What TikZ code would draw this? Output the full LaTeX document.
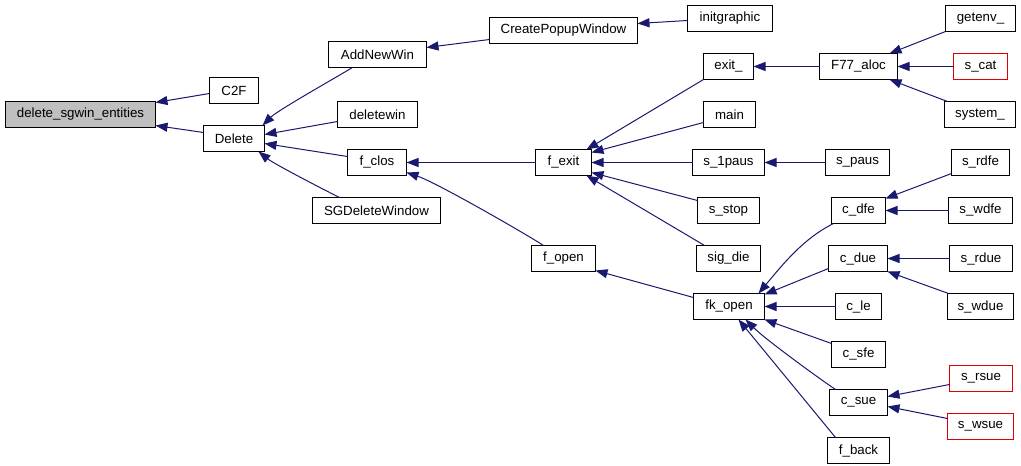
\documentclass[tikz,border=0pt]{standalone}
\usepackage{fontspec}
\setmainfont{Liberation Sans}
\usetikzlibrary{arrows.meta}
\definecolor{edgec}{HTML}{191970}
\definecolor{grayfill}{HTML}{BFBFBF}
\definecolor{redc}{HTML}{E00000}
\tikzset{
 box/.style={draw=black, line width=1pt, fill=white, inner sep=0pt, minimum height=26pt, font=\fontsize{13.3}{16}\selectfont},
 redbox/.style={box, draw=redc},
 edge/.style={draw=edgec, line width=1pt, -{Triangle[length=12pt,width=9pt]}},
}
\begin{document}
\begin{tikzpicture}[x=1pt,y=-1pt]
\useasboundingbox[fill=white] (-0.5,-0.5) rectangle (1020.5,465.5);
% column 0
\node[box, minimum width=150pt, fill=grayfill] (dse) at (80,114) {delete\_sgwin\_entities};
% column 1
\node[box, minimum width=49pt] (C2F) at (233.5,90) {C2F};
\node[box, minimum width=61pt] (Delete) at (233.5,138) {Delete};
% column 2
\node[box, minimum width=98pt] (AddNewWin) at (377,54) {AddNewWin};
\node[box, minimum width=80pt] (deletewin) at (377,114) {deletewin};
\node[box, minimum width=59pt] (fclos) at (376.5,162) {f\_clos};
\node[box, minimum width=128pt] (SGDW) at (376,210) {SGDeleteWindow};
% column 3
\node[box, minimum width=148pt] (CPW) at (563,30) {CreatePopupWindow};
\node[box, minimum width=56pt] (fexit) at (563,162) {f\_exit};
\node[box, minimum width=64pt] (fopen) at (563,258) {f\_open};
% column 4
\node[box, minimum width=85pt] (initgraphic) at (729.5,18) {initgraphic};
\node[box, minimum width=50pt] (exit) at (728,66) {exit\_};
\node[box, minimum width=52pt] (main) at (729,114) {main};
\node[box, minimum width=72pt] (s1paus) at (728,162) {s\_1paus};
\node[box, minimum width=62pt] (sstop) at (728,210) {s\_stop};
\node[box, minimum width=64pt] (sigdie) at (728,258) {sig\_die};
\node[box, minimum width=71pt] (fkopen) at (728.5,306) {fk\_open};
% column 5
\node[box, minimum width=78pt] (F77) at (858,66) {F77\_aloc};
\node[box, minimum width=64pt] (spaus) at (857,162) {s\_paus};
\node[box, minimum width=54pt] (cdfe) at (858,210) {c\_dfe};
\node[box, minimum width=59pt] (cdue) at (857.5,258) {c\_due};
\node[box, minimum width=46pt] (cle) at (858,306) {c\_le};
\node[box, minimum width=54pt] (csfe) at (858,354) {c\_sfe};
\node[box, minimum width=58pt] (csue) at (858,402) {c\_sue};
\node[box, minimum width=62pt] (fback) at (858,450) {f\_back};
% column 6
\node[box, minimum width=70pt] (getenv) at (980,18) {getenv\_};
\node[redbox, minimum width=54pt] (scat) at (980,66) {s\_cat};
\node[box, minimum width=71pt] (system) at (979.5,114) {system\_};
\node[box, minimum width=58pt] (srdfe) at (980,162) {s\_rdfe};
\node[box, minimum width=64pt] (swdfe) at (980,210) {s\_wdfe};
\node[box, minimum width=63pt] (srdue) at (980.5,258) {s\_rdue};
\node[box, minimum width=66pt] (swdue) at (980,306) {s\_wdue};
\node[redbox, minimum width=63pt] (srsue) at (980.5,378) {s\_rsue};
\node[redbox, minimum width=66pt] (swsue) at (980,426) {s\_wsue};
% edges
\draw[edge] ([shift={(-24.5,3)}]C2F.center) -- ([shift={(75,-12)}]dse.center);
\draw[edge] ([shift={(-30.5,-6)}]Delete.center) -- ([shift={(75,11)}]dse.center);
\draw[edge] ([shift={(-25,13)}]AddNewWin.center) .. controls +(-20,12) and +(15,-15) .. ([shift={(28.5,-13)}]Delete.center);
\draw[edge] ([shift={(-40,7)}]deletewin.center) -- ([shift={(30.5,-4)}]Delete.center);
\draw[edge] ([shift={(-29.5,-6)}]fclos.center) -- ([shift={(30.5,5)}]Delete.center);
\draw[edge] ([shift={(-37,-13)}]SGDW.center) .. controls +(-20,-10) and +(15,12) .. ([shift={(24.5,13)}]Delete.center);
\draw[edge] ([shift={(-74,9)}]CPW.center) -- ([shift={(49,-7)}]AddNewWin.center);
\draw[edge] ([shift={(-42.5,2)}]initgraphic.center) -- ([shift={(74,-7)}]CPW.center);
\draw[edge] ([shift={(-28,0)}]fexit.center) -- ([shift={(29.5,0)}]fclos.center);
\draw[edge] ([shift={(-20,-13)}]fopen.center) .. controls +(-15,-10) and +(30,10) .. ([shift={(29.5,10)}]fclos.center);
\draw[edge] ([shift={(-25,13)}]exit.center) .. controls +(-20,12) and +(20,-12) .. ([shift={(23,-13)}]fexit.center);
\draw[edge] ([shift={(-26,8)}]main.center) -- ([shift={(28,-10)}]fexit.center);
\draw[edge] ([shift={(-36,0)}]s1paus.center) -- ([shift={(28,0)}]fexit.center);
\draw[edge] ([shift={(-31,-10)}]sstop.center) -- ([shift={(28,10)}]fexit.center);
\draw[edge] ([shift={(-24,-13)}]sigdie.center) .. controls +(-20,-12) and +(20,12) .. ([shift={(23,13)}]fexit.center);
\draw[edge] ([shift={(-39,0)}]F77.center) -- ([shift={(25,0)}]exit.center);
\draw[edge] ([shift={(-35,13)}]getenv.center) -- ([shift={(31,-13)}]F77.center);
\draw[edge] ([shift={(-27,0)}]scat.center) -- ([shift={(39,0)}]F77.center);
\draw[edge] ([shift={(-32.5,-13)}]system.center) -- ([shift={(31,13)}]F77.center);
\draw[edge] ([shift={(-32,0)}]spaus.center) -- ([shift={(36,0)}]s1paus.center);
\draw[edge] ([shift={(-35.5,-9)}]fkopen.center) -- ([shift={(32,12)}]fopen.center);
\draw[edge] ([shift={(-25,13)}]cdfe.center) .. controls +(-30,15) and +(25,-30) .. ([shift={(29.5,-13)}]fkopen.center);
\draw[edge] ([shift={(-29.5,10)}]cdue.center) -- ([shift={(35.5,-12)}]fkopen.center);
\draw[edge] ([shift={(-23,0)}]cle.center) -- ([shift={(35.5,0)}]fkopen.center);
\draw[edge] ([shift={(-27,-11)}]csfe.center) -- ([shift={(35.5,13)}]fkopen.center);
\draw[edge] ([shift={(-23,-13)}]csue.center) .. controls +(-15,-10) and +(20,20) .. ([shift={(16.5,13)}]fkopen.center);
\draw[edge] ([shift={(-23,-13)}]fback.center) -- ([shift={(9.5,13)}]fkopen.center);
\draw[edge] ([shift={(-29,11)}]srdfe.center) -- ([shift={(27,-12)}]cdfe.center);
\draw[edge] ([shift={(-32,0)}]swdfe.center) -- ([shift={(27,0)}]cdfe.center);
\draw[edge] ([shift={(-31.5,0)}]srdue.center) -- ([shift={(29.5,0)}]cdue.center);
\draw[edge] ([shift={(-32,-13)}]swdue.center) -- ([shift={(29.5,13)}]cdue.center);
\draw[edge] ([shift={(-31.5,6)}]srsue.center) -- ([shift={(29,-6)}]csue.center);
\draw[edge] ([shift={(-33,-8)}]swsue.center) -- ([shift={(29,4)}]csue.center);
\end{tikzpicture}
\end{document}
